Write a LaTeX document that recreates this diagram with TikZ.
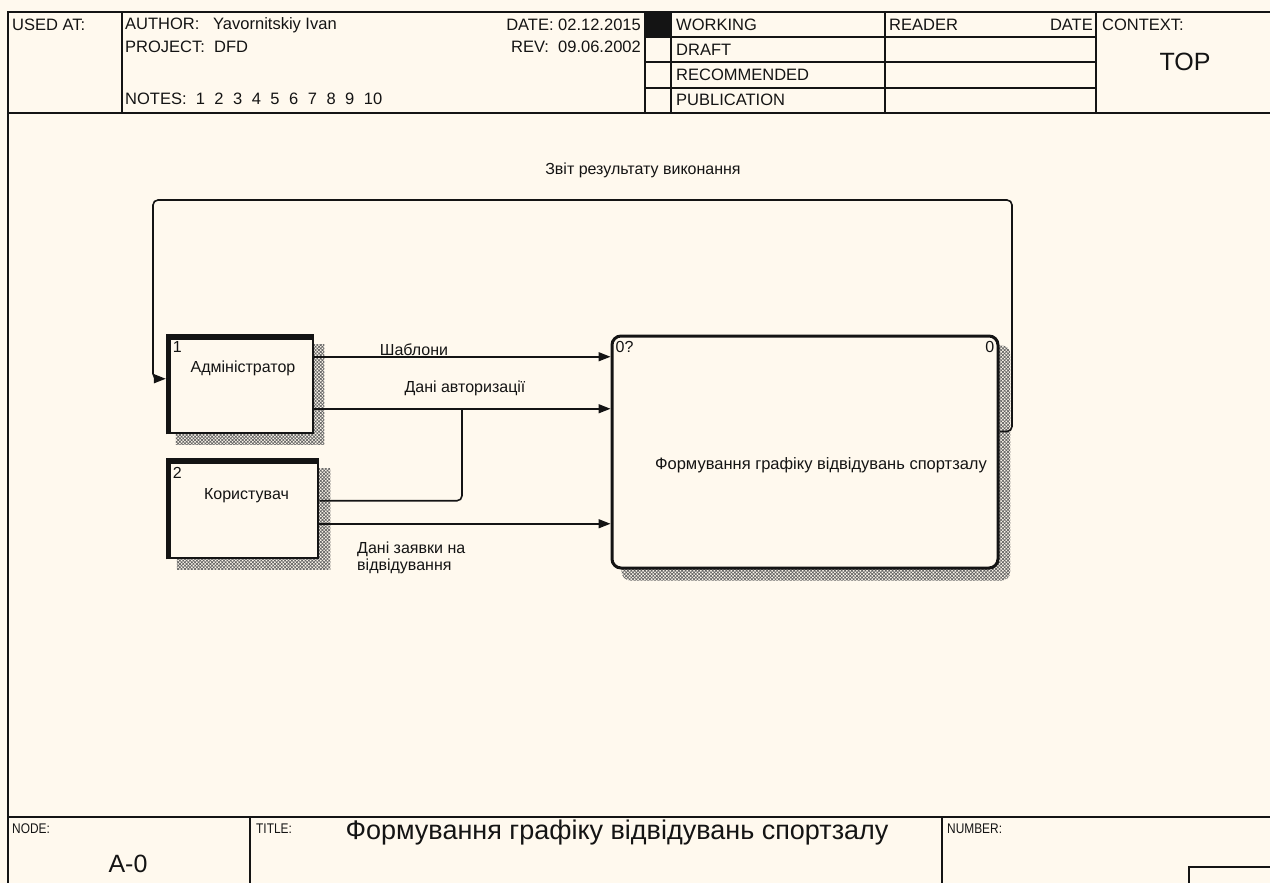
\documentclass[tikz,border=0pt]{standalone}
\usepackage{fontspec}
\setmainfont{Liberation Sans}
\newfontfamily\narrowf[FakeStretch=0.85]{Liberation Sans}
\usetikzlibrary{arrows.meta,patterns.meta,calc,backgrounds}
\definecolor{bg}{RGB}{255,249,238}
\definecolor{ink}{RGB}{20,20,20}
\definecolor{shade}{RGB}{100,100,100}
\begin{document}
\begin{tikzpicture}[x=1pt,y=-1pt,
  frame/.style={draw=ink, line width=1.6pt},
  small/.style={inner sep=0pt, text=ink, font=\fontsize{16.5}{19}\selectfont},
  lab/.style={inner sep=0pt, text=ink, font=\fontsize{16}{19}\selectfont, align=left},
  tiny/.style={inner sep=0pt, text=ink, font=\narrowf\fontsize{14}{16}\selectfont},
  big/.style={inner sep=0pt, text=ink, font=\fontsize{25}{28}\selectfont},
  ext/.style={draw=ink, line width=2.5pt, fill=bg, inner sep=0pt},
  proc/.style={draw=ink, line width=3pt, fill=bg, rounded corners=9pt, inner sep=0pt},
  flow/.style={draw=ink, line width=1.6pt, -{Triangle[length=12pt,width=9pt]}},
  plain/.style={draw=ink, line width=1.6pt},
  shadowfill/.style={pattern={Hatch[distance=2.4pt,angle=45,line width=0.7pt]}, pattern color=shade},
]
\useasboundingbox (0,0) rectangle (1270,883);
\begin{scope}
\clip (0,0) rectangle (1270,883);
% ---------- frame ----------
\draw[frame] (8,900) -- (8,12) -- (1280,12);
\draw[frame] (8,113) -- (1280,113);
\draw[frame] (122,12) -- (122,113);
\draw[frame] (645,12) -- (645,113);
\draw[frame] (671,12) -- (671,113);
\draw[frame] (885,12) -- (885,113);
\draw[frame] (1096,12) -- (1096,113);
\draw[frame] (645,37) -- (1096,37);
\draw[frame] (645,62) -- (1096,62);
\draw[frame] (645,88) -- (1096,88);
\fill[ink] (645,12) rectangle (671,37);
\draw[frame] (8,817) -- (1280,817);
\draw[frame] (250,817) -- (250,900);
\draw[frame] (942,817) -- (942,900);
\draw[frame] (1189,900) |- (1280,867);
\end{scope}

% ---------- header text ----------
\node[small, anchor=west] (usedat) at (12,25) {USED AT:};
\node[small, anchor=west] (author) at (125,25) {AUTHOR:~~~Yavornitskiy Ivan};
\node[small, anchor=west] (project) at (125,47) {PROJECT:~~DFD};
\node[small, anchor=west] (notes) at (125,99) {NOTES:~~1\hspace{9.5pt}2\hspace{9.5pt}3\hspace{9.5pt}4\hspace{9.5pt}5\hspace{9.5pt}6\hspace{9.5pt}7\hspace{9.5pt}8\hspace{9.5pt}9\hspace{9.5pt}10};
\node[small, anchor=east] (date) at (641,25) {DATE: 02.12.2015};
\node[small, anchor=east] (rev) at (641,47) {REV:~~09.06.2002};
\node[small, anchor=west] (working) at (676,25) {WORKING};
\node[small, anchor=west] (draft) at (676,50) {DRAFT};
\node[small, anchor=west] (recom) at (676,75) {RECOMMENDED};
\node[small, anchor=west] (publ) at (676,100) {PUBLICATION};
\node[small, anchor=west] (reader) at (889,25) {READER};
\node[small, anchor=east] (rdate) at (1093,25) {DATE};
\node[small, anchor=west] (context) at (1102,25) {CONTEXT:};
\node[big] (top) at (1185,62) {TOP};

% ---------- footer text ----------
\node[tiny, anchor=west] (nodelbl) at (12,829) {NODE:};
\node[big] (nodeval) at (128,864) {A-0};
\node[tiny, anchor=west] (titlelbl) at (256,829) {TITLE:};
\node[big, font=\fontsize{27}{30}\selectfont] (title) at (617,833) {Формування графіку відвідувань спортзалу};
\node[tiny, anchor=west] (numberlbl) at (947,829) {NUMBER:};

% ---------- boxes ----------
\node[ext, minimum width=146pt, minimum height=97pt] (b1) at (240,384.5) {};
\node[ext, minimum width=151pt, minimum height=98pt] (b2) at (242.5,509) {};
\node[proc, minimum width=386pt, minimum height=232pt] (b0) at (805,452) {};

\begin{scope}[on background layer]
\fill[bg] (0,0) rectangle (1270,883);
\fill[shadowfill] ($(b1.north west)+(10,10)$) rectangle ($(b1.south east)+(10,10)$);
\fill[shadowfill] ($(b2.north west)+(11,10)$) rectangle ($(b2.south east)+(11,10)$);
\fill[shadowfill, rounded corners=9pt] ($(b0.north west)+(11,11)$) rectangle ($(b0.south east)+(11,11)$);
\end{scope}

% thick left/top borders of external entities
\draw[ink, line width=5.5pt] ([xshift=2.5pt]b1.south west) -- ([xshift=2.5pt,yshift=-2pt]b1.north west) -- ([yshift=-2pt]b1.north east);
\draw[ink, line width=5.5pt] ([xshift=2.5pt]b2.south west) -- ([xshift=2.5pt,yshift=-2pt]b2.north west) -- ([yshift=-2pt]b2.north east);

\node[lab, anchor=north west] (n1) at ([xshift=7pt,yshift=-7pt]b1.north west) {1};
\node[lab] (t1) at ([xshift=3pt,yshift=-34pt]b1.north) {Адміністратор};
\node[lab, anchor=north west] (n2) at ([xshift=7pt,yshift=-8pt]b2.north west) {2};
\node[lab] (t2) at ([xshift=4pt,yshift=-37pt]b2.north) {Користувач};
\node[lab, anchor=north west] (n0a) at ([xshift=5pt,yshift=-7pt]b0.north west) {0?};
\node[lab, anchor=north east] (n0b) at ([xshift=-5pt,yshift=-7pt]b0.north east) {0};
\node[lab, font=\fontsize{16.5}{19}\selectfont] (t0) at ($(b0.center)+(16,13)$) {Формування графіку відвідувань спортзалу};

% ---------- connectors ----------
\draw[flow] ([yshift=-22pt]b1.north east) coordinate (s1) -- (s1 -| b0.west);
\draw[flow] ([yshift=-74pt]b1.north east) coordinate (s2) -- (s2 -| b0.west);
\draw[flow] ([yshift=-65pt]b2.north east) coordinate (s3) -- (s3 -| b0.west);
\coordinate (jn) at (462,410);
\draw[plain, rounded corners=5pt] ([yshift=-42pt]b2.north east) coordinate (s4) -- (s4 -| jn) -- (jn);
\coordinate (fbR) at (1012,200);
\coordinate (fbL) at (153,200);
\draw[flow, rounded corners=5pt] ([yshift=-97pt]b0.north east) -| (fbR) -- (fbL) |- ([yshift=-44pt]b1.north west);

% ---------- connector labels ----------
\node[lab] (l1) at (414,350) {Шаблони};
\node[lab] (l2) at (465,388) {Дані авторизації};
\node[lab, anchor=north west, font=\fontsize{16}{17}\selectfont] (l3) at (357,542) {Дані заявки на\\відвідування};
\node[lab] (l4) at (643,170) {Звіт результату виконання};
\end{tikzpicture}
\end{document}
